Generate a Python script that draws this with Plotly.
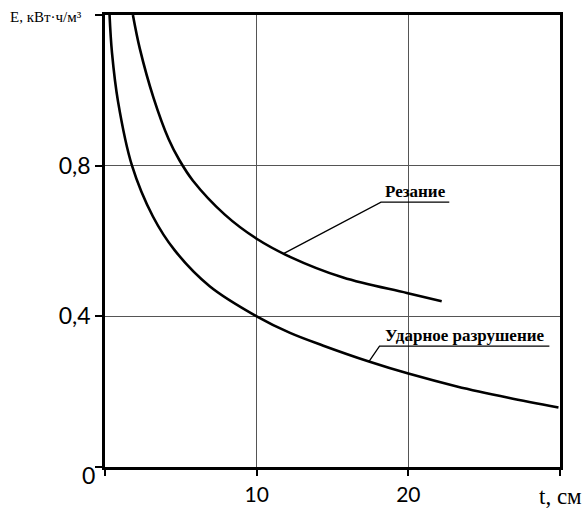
import plotly.graph_objects as go

# Data
t_cut = [1.84, 2.3, 3.2, 4.2, 4.9, 5.8, 7.9, 10.0, 12.2, 15.7, 19.9, 22.2]
e_cut = [1.20, 1.11, 0.98, 0.87, 0.815, 0.76, 0.67, 0.606, 0.558, 0.503, 0.462, 0.44]

t_imp = [0.3, 0.46, 0.86, 1.78, 3.16, 4.6, 6.9, 10.0, 12.2, 14.4, 17.4, 20.0, 23.2, 26.6, 29.9]
e_imp = [1.20, 1.10, 0.97, 0.80, 0.665, 0.575, 0.48, 0.40, 0.356, 0.322, 0.280, 0.248, 0.214, 0.184, 0.158]

x_ticks = [0, 10, 20, 30]
x_ticktext = ["", "10", "20", ""]
y_ticks = [0, 0.4, 0.8, 1.2]
y_ticktext = ["", "0,4", "0,8", ""]

label_cut = "Резание"
label_imp = "Ударное разрушение"
y_title = "E, кВт·ч/м³"
x_title = "t, см"

# leader lines (t, E)
lead_cut_x = [11.8, 18.2, 22.7]
lead_cut_y = [0.567, 0.703, 0.703]
lead_imp_x = [17.4, 18.1, 29.3]
lead_imp_y = [0.280, 0.321, 0.321]

fig = go.Figure()
line_style = dict(color="black", width=2.6, shape="spline", smoothing=1.0)
fig.add_trace(go.Scatter(x=t_cut, y=e_cut, mode="lines", line=line_style, showlegend=False))
fig.add_trace(go.Scatter(x=t_imp, y=e_imp, mode="lines", line=line_style, showlegend=False))
fig.add_trace(go.Scatter(x=lead_cut_x, y=lead_cut_y, mode="lines",
                         line=dict(color="black", width=1.3), showlegend=False))
fig.add_trace(go.Scatter(x=lead_imp_x, y=lead_imp_y, mode="lines",
                         line=dict(color="black", width=1.3), showlegend=False))

serif = "Liberation Serif"
fig.add_annotation(x=(lead_cut_x[1] + lead_cut_x[2]) / 2, y=lead_cut_y[1], text="<b>" + label_cut + "</b>",
                   showarrow=False, yanchor="bottom", yshift=-1,
                   font=dict(family=serif, size=17, color="black"))
fig.add_annotation(x=(lead_imp_x[1] + lead_imp_x[2]) / 2, y=lead_imp_y[1], text="<b>" + label_imp + "</b>",
                   showarrow=False, yanchor="bottom", yshift=-1,
                   font=dict(family=serif, size=17, color="black"))
fig.add_annotation(xref="paper", x=-0.213, yref="y", y=1.2, text=y_title, showarrow=False,
                   xanchor="left", yanchor="middle", yshift=-2,
                   font=dict(family=serif, size=15, color="black"))
fig.add_annotation(xref="x", x=30, yref="paper", y=0, text=x_title, showarrow=False,
                   xanchor="center", yanchor="top", yshift=-15,
                   font=dict(family=serif, size=23, color="black"))
fig.add_annotation(xref="x", x=0, yref="y", y=0, text="0", showarrow=False,
                   xanchor="right", yanchor="middle", xshift=-8, yshift=-8,
                   font=dict(family="Lato", size=23, color="black"))

fig.update_xaxes(range=[0, 30], tickvals=x_ticks, ticktext=x_ticktext,
                 showline=True, linecolor="black", linewidth=2.6, mirror=True,
                 ticks="outside", ticklen=6, tickwidth=2, tickcolor="black",
                 showgrid=True, gridcolor="#555555", gridwidth=1.3,
                 zeroline=False, ticklabelstandoff=1, automargin=False,
                 tickfont=dict(family="Lato", size=21, color="black"))
fig.update_yaxes(range=[0, 1.2], tickvals=y_ticks, ticktext=y_ticktext,
                 showline=True, linecolor="black", linewidth=2.6, mirror=True,
                 ticks="outside", ticklen=7, tickwidth=2, tickcolor="black",
                 showgrid=True, gridcolor="#555555", gridwidth=1.3,
                 zeroline=False, automargin=False,
                 tickfont=dict(family="Lato", size=23, color="black"))

fig.update_layout(width=587, height=508, margin=dict(l=105, r=27, t=15, b=41),
                  plot_bgcolor="white", paper_bgcolor="white")

post = (
    "var de=document.documentElement, b=document.body;"
    "de.style.margin='0'; b.style.margin='0'; de.style.padding='0'; b.style.padding='0';"
    "de.style.overflow='hidden'; b.style.overflow='hidden';"
)
fig.write_html("out.html", config={"displayModeBar": False}, post_script=post)
